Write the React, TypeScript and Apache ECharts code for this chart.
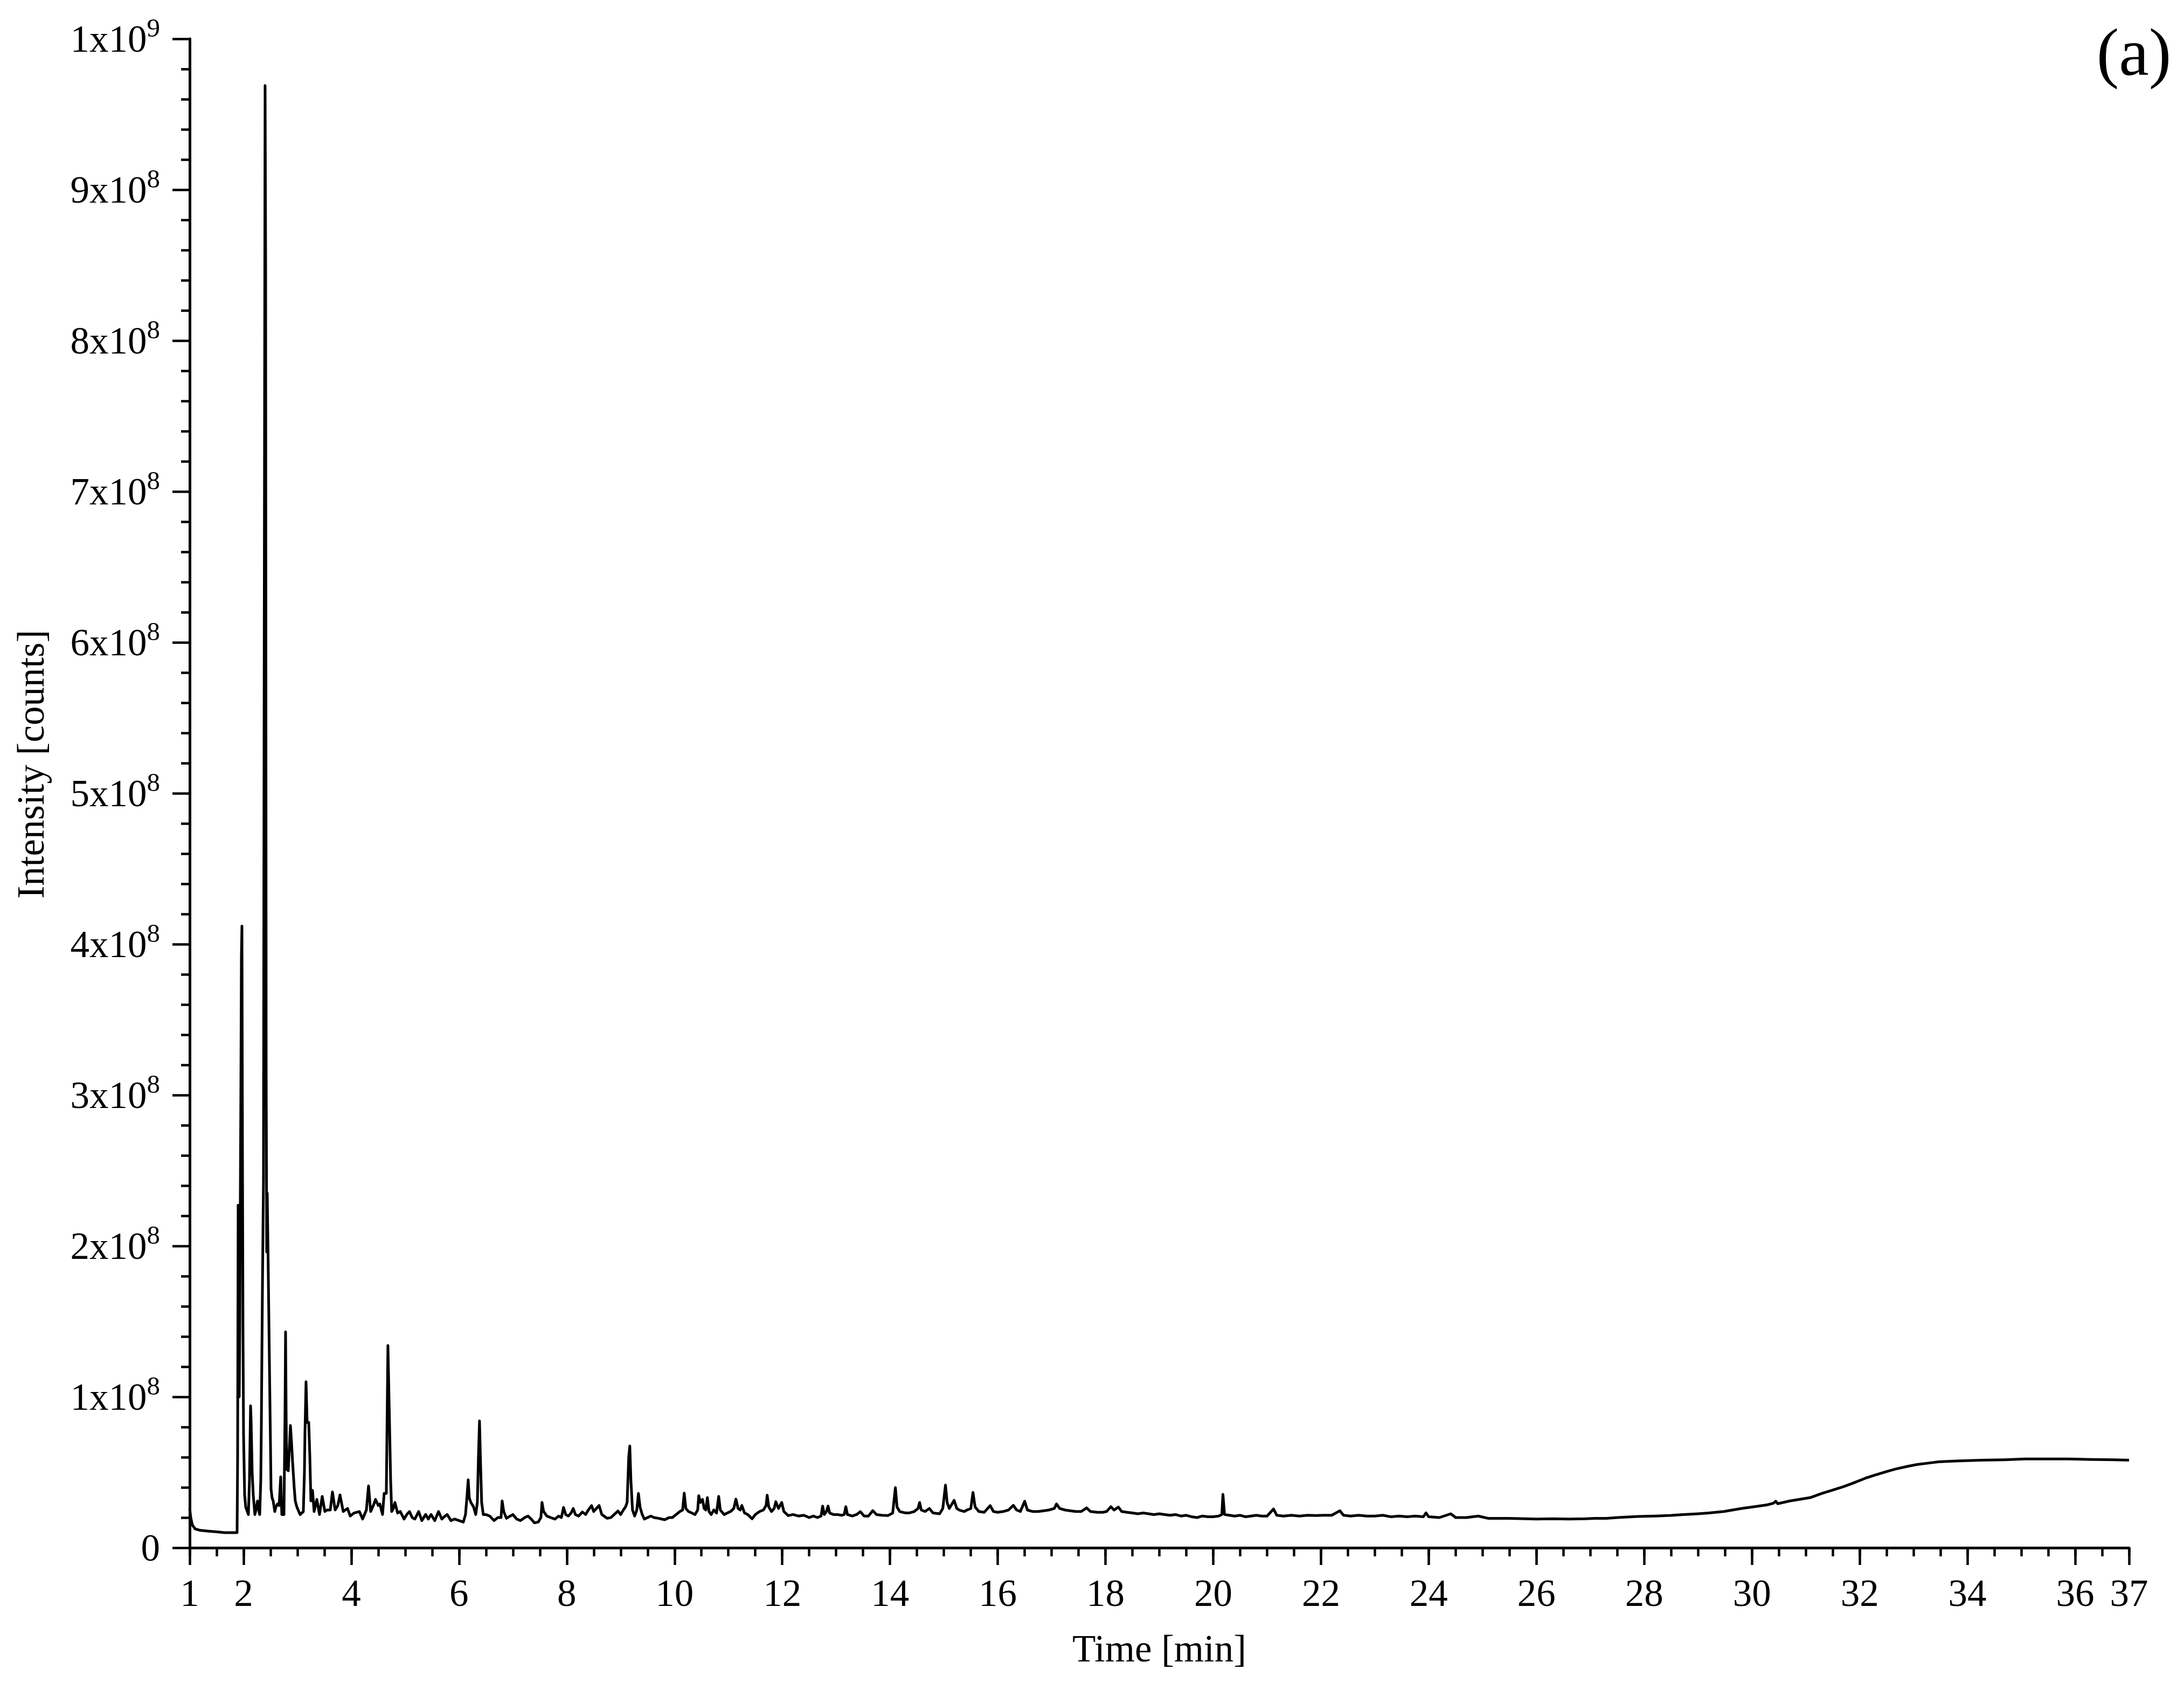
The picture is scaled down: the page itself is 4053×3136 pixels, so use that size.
import React, { useEffect, useRef } from "react";
import * as echarts from "echarts";

// Retention time (min) and intensity (units of 1e8 counts)
const timeMin = [
  1.0, 1.02, 1.05, 1.1, 1.2, 1.35, 1.5, 1.65, 1.8, 1.88,
  1.89, 1.9, 1.91, 1.92, 1.93, 1.94, 1.95, 1.96, 1.97, 1.98, 1.99, 2.0, 2.02, 2.04, 2.06, 2.09,
  2.11, 2.13, 2.14, 2.16, 2.18, 2.21, 2.23, 2.26, 2.28, 2.3, 2.32, 2.33, 2.35, 2.37, 2.38, 2.4,
  2.41, 2.42, 2.43, 2.44, 2.46, 2.48, 2.5, 2.51, 2.53, 2.55, 2.58, 2.6, 2.63, 2.66, 2.69, 2.71,
  2.75, 2.77, 2.78, 2.79, 2.8, 2.83, 2.87, 2.89, 2.91, 2.94, 2.96, 2.99, 3.05, 3.11, 3.13, 3.14,
  3.16, 3.18, 3.21, 3.23, 3.25, 3.28, 3.31, 3.36, 3.41, 3.46, 3.51, 3.55, 3.61, 3.65, 3.7, 3.75,
  3.79, 3.85, 3.93, 3.98, 4.05, 4.15, 4.21, 4.28, 4.32, 4.36, 4.41, 4.45, 4.5, 4.53, 4.58, 4.61,
  4.65, 4.68, 4.71, 4.73, 4.75, 4.78, 4.81, 4.86, 4.91, 4.98, 5.03, 5.08, 5.13, 5.18, 5.25, 5.31,
  5.38, 5.43, 5.48, 5.55, 5.62, 5.68, 5.74, 5.78, 5.85, 5.92, 6.0, 6.08, 6.12, 6.15, 6.17, 6.19,
  6.22, 6.27, 6.31, 6.34, 6.36, 6.38, 6.4, 6.42, 6.45, 6.5, 6.57, 6.65, 6.72, 6.78, 6.8, 6.83,
  6.88, 6.95, 7.0, 7.07, 7.14, 7.22, 7.28, 7.34, 7.4, 7.47, 7.52, 7.54, 7.57, 7.63, 7.7, 7.78,
  7.85, 7.9, 7.94, 7.98, 8.03, 8.08, 8.12, 8.16, 8.22, 8.29, 8.35, 8.4, 8.46, 8.5, 8.55, 8.6,
  8.65, 8.75, 8.82, 8.88, 8.95, 9.0, 9.05, 9.09, 9.12, 9.15, 9.17, 9.19, 9.22, 9.26, 9.3, 9.33,
  9.36, 9.4, 9.44, 9.5, 9.56, 9.62, 9.7, 9.76, 9.82, 9.9, 9.96, 10.03, 10.1, 10.15, 10.18, 10.21,
  10.26, 10.32, 10.38, 10.43, 10.45, 10.48, 10.52, 10.55, 10.58, 10.61, 10.64, 10.68, 10.73, 10.78,
  10.82, 10.85, 10.92, 10.98, 11.04, 11.1, 11.14, 11.18, 11.22, 11.25, 11.3, 11.36, 11.44, 11.5,
  11.58, 11.65, 11.7, 11.72, 11.75, 11.8, 11.85, 11.88, 11.93, 11.99, 12.03, 12.11, 12.2, 12.3,
  12.4, 12.5, 12.58, 12.65, 12.72, 12.75, 12.78, 12.82, 12.85, 12.88, 12.95, 13.02, 13.1, 13.15,
  13.18, 13.21, 13.3, 13.38, 13.45, 13.52, 13.6, 13.68, 13.75, 13.85, 13.96, 14.05, 14.08, 14.1,
  14.13, 14.18, 14.28, 14.35, 14.45, 14.52, 14.55, 14.58, 14.65, 14.73, 14.8, 14.92, 14.98, 15.03,
  15.06, 15.1, 15.19, 15.24, 15.3, 15.38, 15.43, 15.5, 15.54, 15.58, 15.65, 15.75, 15.86, 15.92,
  16.0, 16.1, 16.2, 16.29, 16.35, 16.42, 16.5, 16.55, 16.65, 16.75, 16.85, 16.95, 17.05, 17.09,
  17.15, 17.25, 17.35, 17.45, 17.55, 17.65, 17.72, 17.85, 17.95, 18.02, 18.1, 18.16, 18.24, 18.3,
  18.4, 18.5, 18.6, 18.7, 18.8, 18.9, 19.0, 19.1, 19.2, 19.3, 19.4, 19.5, 19.6, 19.7, 19.8, 19.9,
  20.0, 20.1, 20.16, 20.18, 20.21, 20.3, 20.4, 20.5, 20.6, 20.7, 20.8, 20.9, 21.0, 21.12, 21.18,
  21.3, 21.45, 21.6, 21.75, 21.9, 22.05, 22.2, 22.35, 22.42, 22.55, 22.7, 22.85, 23.0, 23.15,
  23.3, 23.45, 23.6, 23.75, 23.9, 23.95, 24.0, 24.2, 24.41, 24.5, 24.7, 24.92, 25.1, 25.3, 25.48,
  25.7, 26.0, 26.3, 26.6, 26.9, 27.08, 27.3, 27.5, 27.88, 28.2, 28.5, 28.68, 29.0, 29.2, 29.48,
  29.8, 30.0, 30.28, 30.4, 30.44, 30.48, 30.7, 31.08, 31.3, 31.48, 31.7, 31.87, 32.1, 32.27,
  32.5, 32.67, 32.9, 33.07, 33.3, 33.47, 33.8, 34.27, 34.7, 35.07, 35.5, 35.87, 36.3, 36.7, 37.0,
];

const intensity1e8 = [
  0.26, 0.2, 0.15, 0.125, 0.115, 0.11, 0.105, 0.1, 0.1, 0.1,
  0.6, 2.27, 2.0, 1.0, 1.5, 2.3, 3.0, 3.92, 4.12, 2.6, 1.4, 0.75, 0.35, 0.27, 0.25, 0.22,
  0.45, 0.94, 0.85, 0.5, 0.35, 0.22, 0.25, 0.31, 0.25, 0.22, 0.45, 0.8, 1.7, 2.44, 5.13, 9.69,
  8.5, 3.16, 1.96, 2.35, 1.8, 1.23, 0.68, 0.39, 0.33, 0.31, 0.24, 0.27, 0.29, 0.28, 0.47, 0.22,
  0.22, 0.9, 1.43, 0.9, 0.52, 0.51, 0.81, 0.7, 0.57, 0.4, 0.31, 0.27, 0.22, 0.24, 0.5, 0.76,
  1.1, 0.83, 0.83, 0.61, 0.31, 0.38, 0.24, 0.32, 0.22, 0.34, 0.24, 0.25, 0.25, 0.37, 0.25, 0.28,
  0.35, 0.24, 0.26, 0.21, 0.23, 0.24, 0.19, 0.25, 0.41, 0.24, 0.28, 0.32, 0.28, 0.29, 0.22, 0.36,
  0.36, 1.34, 0.82, 0.45, 0.24, 0.26, 0.3, 0.23, 0.24, 0.19, 0.22, 0.24, 0.2, 0.19, 0.24, 0.18,
  0.22, 0.19, 0.22, 0.18, 0.24, 0.19, 0.21, 0.22, 0.18, 0.19, 0.18, 0.17, 0.22, 0.35, 0.45, 0.33,
  0.3, 0.27, 0.22, 0.3, 0.6, 0.84, 0.55, 0.3, 0.22, 0.22, 0.21, 0.18, 0.2, 0.2, 0.31, 0.24,
  0.195, 0.21, 0.22, 0.19, 0.18, 0.2, 0.21, 0.19, 0.165, 0.17, 0.2, 0.3, 0.24, 0.21, 0.2, 0.19,
  0.21, 0.2, 0.267, 0.22, 0.21, 0.23, 0.26, 0.22, 0.21, 0.237, 0.22, 0.25, 0.279, 0.24, 0.26, 0.28,
  0.22, 0.195, 0.2, 0.22, 0.243, 0.22, 0.25, 0.27, 0.3, 0.6, 0.674, 0.45, 0.25, 0.21, 0.25, 0.36,
  0.27, 0.22, 0.19, 0.2, 0.21, 0.2, 0.195, 0.19, 0.186, 0.2, 0.2, 0.22, 0.24, 0.25, 0.362, 0.26,
  0.24, 0.23, 0.22, 0.25, 0.345, 0.3, 0.32, 0.26, 0.25, 0.332, 0.24, 0.22, 0.25, 0.23,
  0.34, 0.25, 0.22, 0.23, 0.24, 0.26, 0.322, 0.26, 0.25, 0.28, 0.23, 0.22, 0.192, 0.22,
  0.24, 0.25, 0.28, 0.348, 0.27, 0.24, 0.26, 0.305, 0.26, 0.3, 0.24, 0.213, 0.22, 0.21,
  0.215, 0.2, 0.21, 0.2, 0.21, 0.276, 0.22, 0.24, 0.276, 0.23, 0.22, 0.22, 0.215, 0.22,
  0.272, 0.22, 0.21, 0.22, 0.239, 0.21, 0.21, 0.246, 0.22, 0.215, 0.213, 0.23, 0.33, 0.398,
  0.27, 0.24, 0.231, 0.23, 0.24, 0.26, 0.3, 0.25, 0.24, 0.26, 0.23, 0.225, 0.26, 0.415,
  0.3, 0.26, 0.314, 0.26, 0.248, 0.24, 0.25, 0.26, 0.366, 0.27, 0.24, 0.235, 0.279, 0.24,
  0.235, 0.24, 0.25, 0.281, 0.25, 0.24, 0.308, 0.25, 0.24, 0.24, 0.245, 0.25, 0.26, 0.29,
  0.26, 0.25, 0.245, 0.24, 0.24, 0.264, 0.24, 0.235, 0.235, 0.24, 0.272, 0.25, 0.269, 0.24,
  0.235, 0.23, 0.225, 0.23, 0.225, 0.22, 0.225, 0.22, 0.215, 0.22, 0.21, 0.215, 0.205, 0.2, 0.21, 0.205,
  0.205, 0.21, 0.22, 0.354, 0.22, 0.215, 0.21, 0.215, 0.205, 0.21, 0.215, 0.21, 0.21, 0.257, 0.215,
  0.21, 0.215, 0.21, 0.215, 0.213, 0.215, 0.215, 0.245, 0.215, 0.21, 0.215, 0.21, 0.21, 0.215,
  0.205, 0.21, 0.205, 0.21, 0.205, 0.231, 0.205, 0.2, 0.225, 0.2, 0.2, 0.21, 0.195, 0.195, 0.195,
  0.193, 0.19, 0.192, 0.19, 0.192, 0.195, 0.195, 0.2, 0.207, 0.21, 0.214, 0.219, 0.225, 0.23, 0.24,
  0.26, 0.27, 0.284, 0.295, 0.308, 0.292, 0.31, 0.332, 0.36, 0.38, 0.405, 0.427, 0.46, 0.48,
  0.505, 0.522, 0.54, 0.552, 0.562, 0.57, 0.575, 0.58, 0.583, 0.588, 0.588, 0.588, 0.585, 0.583, 0.58,
];

const xTickLabels = [1, 2, 4, 6, 8, 10, 12, 14, 16, 18, 20, 22, 24, 26, 28, 30, 32, 34, 36, 37];
const yTickLabels = ["0", "1x10^8", "2x10^8", "3x10^8", "4x10^8", "5x10^8", "6x10^8", "7x10^8", "8x10^8", "9x10^8", "1x10^9"];
const xTitle = "Time [min]";
const yTitle = "Intensity [counts]";
const panelLabel = "(a)";

const FONT = "'Liberation Serif', 'Times New Roman', serif";

export default function App() {
  const ref = useRef<HTMLDivElement>(null);
  useEffect(() => {
    document.body.style.margin = "0";
    const chart = echarts.init(ref.current!, null, { renderer: "svg" });
    const data = timeMin.map((t, i) => [t, intensity1e8[i]]);
    const axisLineStyle = { color: "#000", width: 5 };
    chart.setOption({
      animation: false,
      backgroundColor: "#fff",
      grid: { left: 352, right: 102, top: 72, bottom: 264, containLabel: false },
      xAxis: [
        {
          type: "value",
          min: 1,
          max: 37,
          interval: 0.5,
          position: "bottom",
          axisLine: { show: true, onZero: false, lineStyle: axisLineStyle },
          axisTick: { show: true, inside: false, length: 16, lineStyle: { color: "#000", width: 4.5 } },
          axisLabel: { show: false },
          splitLine: { show: false },
        },
        {
          type: "value",
          min: 1,
          max: 37,
          position: "bottom",
          axisLine: { show: false, onZero: false },
          axisTick: { show: true, inside: false, length: 32, customValues: xTickLabels, lineStyle: { color: "#000", width: 4.5 } },
          axisLabel: {
            show: true,
            customValues: xTickLabels,
            margin: 48,
            fontSize: 71,
            fontFamily: FONT,
            color: "#000",
          },
          splitLine: { show: false },
          name: xTitle,
          nameLocation: "middle",
          nameGap: 151,
          nameTextStyle: { fontSize: 71, fontFamily: FONT, color: "#000" },
        },
      ],
      yAxis: {
        type: "value",
        min: 0,
        max: 10,
        interval: 1,
        axisLine: { show: true, onZero: false, lineStyle: axisLineStyle },
        axisTick: { show: true, inside: false, length: 32, lineStyle: { color: "#000", width: 4.5 } },
        minorTick: { show: true, splitNumber: 5, length: 16, lineStyle: { color: "#000", width: 4.5 } },
        splitLine: { show: false },
        minorSplitLine: { show: false },
        axisLabel: {
          margin: 55,
          formatter: (v: number) => {
            const s = yTickLabels[Math.round(v)];
            if (!s.includes("^")) return `{n|${s}}`;
            const [b, e] = s.split("^");
            return `{n|${b}}{s|${e}}`;
          },
          rich: {
            n: { fontSize: 71, fontFamily: FONT, color: "#000", lineHeight: 71, verticalAlign: "middle" },
            s: { fontSize: 49, fontFamily: FONT, color: "#000", lineHeight: 49, padding: [0, 0, 42, 0], verticalAlign: "middle" },
          },
        },
      },
      graphic: [
        {
          type: "text",
          x: 57,
          y: 1418,
          rotation: Math.PI / 2,
          style: { text: yTitle, fontSize: 71, fontFamily: FONT, fill: "#000", align: "center", verticalAlign: "middle" },
        },
        {
          type: "text",
          x: 3960,
          y: 97,
          style: { text: panelLabel, fontSize: 125, fontFamily: FONT, fill: "#000", align: "center", verticalAlign: "middle" },
        },
      ],
      series: [
        {
          type: "line",
          xAxisIndex: 0,
          yAxisIndex: 0,
          data,
          showSymbol: false,
          symbol: "none",
          lineStyle: { color: "#000", width: 5, join: "round" },
          silent: true,
        },
      ],
    });
    return () => chart.dispose();
  }, []);
  return <div ref={ref} style={{ width: 4053, height: 3136 }} />;
}
